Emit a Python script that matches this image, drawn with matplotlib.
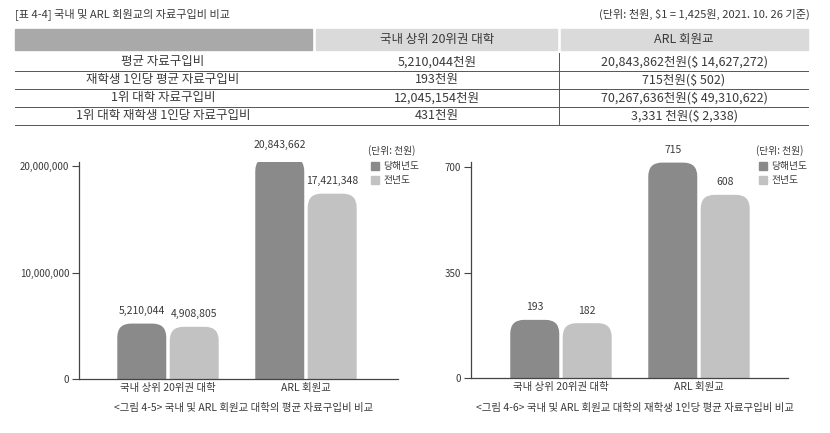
import matplotlib
matplotlib.use("Agg")
import matplotlib.pyplot as plt
from matplotlib.patches import FancyBboxPatch, Rectangle
from matplotlib.lines import Line2D

plt.rcParams['font.family'] = ['Noto Sans CJK KR', 'Noto Sans CJK JP', 'Noto Sans CJK SC', 'DejaVu Sans']

table_title = "[표 4-4] 국내 및 ARL 회원교의 자료구입비 비교"
table_unit = "(단위: 천원, $1 = 1,425원, 2021. 10. 26 기준)"
table_header = ["국내 상위 20위권 대학", "ARL 회원교"]
row_labels = ["평균 자료구입비", "재학생 1인당 평균 자료구입비", "1위 대학 자료구입비", "1위 대학 재학생 1인당 자료구입비"]
col_domestic = ["5,210,044천원", "193천원", "12,045,154천원", "431천원"]
col_arl = ["20,843,862천원($ 14,627,272)", "715천원($ 502)", "70,267,636천원($ 49,310,622)", "3,331 천원($ 2,338)"]

categories = ["국내 상위 20위권 대학", "ARL 회원교"]
series_names = ["당해년도", "전년도"]
avg_current = [5210044, 20843662]
avg_prev = [4908805, 17421348]
per_current = [193, 715]
per_prev = [182, 608]
avg_ticks = [0, 10000000, 20000000]
avg_ticklabels = ["0", "10,000,000", "20,000,000"]
per_ticks = [0, 350, 700]
per_ticklabels = ["0", "350", "700"]
cap_left = "<그림 4-5> 국내 및 ARL 회원교 대학의 평균 자료구입비 비교"
cap_right = "<그림 4-6> 국내 및 ARL 회원교 대학의 재학생 1인당 평균 자료구입비 비교"
unit_label = "(단위: 천원)"

W, H = 830, 433
fig = plt.figure(figsize=(W/100, H/100), dpi=100)
TC = "#3a3a3a"
DARK, LIGHT = "#8a8a8a", "#c2c2c2"

def fx(px): return px / W
def fy(py): return 1 - py / H

# ---- table ----
fig.text(fx(15), fy(14), table_title, fontsize=8, color=TC, va='center', ha='left')
fig.text(fx(810), fy(14), table_unit, fontsize=8, color=TC, va='center', ha='right')
fig.patches.append(Rectangle((fx(15), fy(50)), fx(297), 21/H, transform=fig.transFigure, color="#a9a9a9", figure=fig))
fig.patches.append(Rectangle((fx(316), fy(50)), fx(241), 21/H, transform=fig.transFigure, color="#dadada", figure=fig))
fig.patches.append(Rectangle((fx(561), fy(50)), fx(247), 21/H, transform=fig.transFigure, color="#dadada", figure=fig))
fig.text(fx(437), fy(40), table_header[0], fontsize=9, color=TC, ha='center', va='center')
fig.text(fx(684), fy(40), table_header[1], fontsize=9, color=TC, ha='center', va='center')
row_y = [62, 80, 98, 116]
for i, y in enumerate(row_y):
    fig.text(fx(163), fy(y), row_labels[i], fontsize=9, color=TC, ha='center', va='center')
    fig.text(fx(437), fy(y), col_domestic[i], fontsize=9, color=TC, ha='center', va='center')
    fig.text(fx(684), fy(y), col_arl[i], fontsize=9, color=TC, ha='center', va='center')
    fig.lines.append(Line2D([fx(15), fx(808)], [fy(y+9)]*2, transform=fig.transFigure, color="#555555", lw=0.7))
fig.lines.append(Line2D([fx(559)]*2, [fy(53), fy(125)], transform=fig.transFigure, color="#555555", lw=0.7))

def bar_chart(left, right, top, bottom, xlim, ylim, cur, prev, ticks, ticklabels, labels_fmt, cap, legend_x):
    ax = fig.add_axes([fx(left), fy(bottom), (right-left)/W, (bottom-top)/H])
    ax.set_xlim(*xlim); ax.set_ylim(*ylim)
    w = 0.355; off = 0.19
    ppx_x = (right-left)/(xlim[1]-xlim[0])
    ppx_y = (bottom-top)/(ylim[1]-ylim[0])
    aspect = ppx_x / ppx_y
    r = 0.1
    for vals, sign, col in [(cur, -1, DARK), (prev, 1, LIGHT)]:
        for i, v in enumerate(vals):
            x0 = i + sign*off - w/2
            p = FancyBboxPatch((x0, -v*0.3), w, v*1.3, boxstyle=f"round,pad=0,rounding_size={r}",
                               mutation_aspect=aspect, facecolor=col, edgecolor='none', clip_on=True)
            ax.add_patch(p)
            ax.text(i + sign*off, v + ylim[1]*0.035, labels_fmt(v), ha='center', va='bottom', fontsize=7.5, color=TC, clip_on=False)
    for s in ['top', 'right']:
        ax.spines[s].set_visible(False)
    for s in ['left', 'bottom']:
        ax.spines[s].set_color("#444444"); ax.spines[s].set_linewidth(0.9)
    ax.set_yticks(ticks); ax.set_yticklabels(ticklabels, fontsize=7, color=TC)
    ax.tick_params(axis='y', length=5, color="#444444", pad=2)
    ax.set_xticks([0, 1]); ax.set_xticklabels(categories, fontsize=7.5, color=TC)
    ax.tick_params(axis='x', length=0, pad=3)
    fig.text(fx((left+right)/2 + 5), fy(408), cap, fontsize=7.5, color=TC, ha='center', va='center')
    fig.text(fx(legend_x - 3), fy(151), unit_label, fontsize=7, color=TC, ha='left', va='center')
    for k, (nm, col) in enumerate(zip(series_names, [DARK, LIGHT])):
        yy = 166 + 14*k
        fig.patches.append(Rectangle((fx(legend_x), fy(yy+4)), 8/W, 8/H, transform=fig.transFigure, color=col, figure=fig))
        fig.text(fx(legend_x + 12), fy(yy), nm, fontsize=7, color=TC, ha='left', va='center')
    return ax

bar_chart(79, 398, 162, 379, (-0.645, 1.667), (0, 20400000), avg_current, avg_prev,
          avg_ticks, avg_ticklabels, lambda v: f"{v:,}", cap_left, 371)
bar_chart(471, 788, 162, 378, (-0.652, 1.645), (0, 717), per_current, per_prev,
          per_ticks, per_ticklabels, lambda v: f"{v:,}", cap_right, 759)

fig.savefig("out.png", dpi=100, facecolor="white")
